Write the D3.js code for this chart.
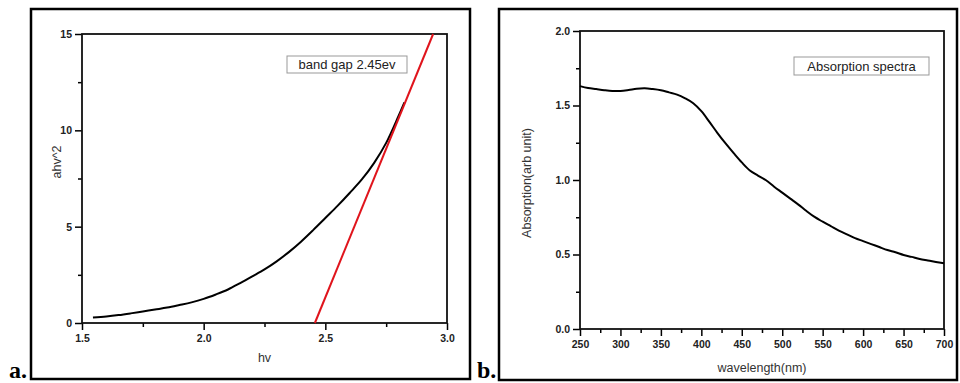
<!DOCTYPE html>
<html>
<head>
<meta charset="utf-8">
<script src="https://cdn.jsdelivr.net/npm/d3@7"></script>
<style>
  body { margin: 0; background: #fff; }
  svg { display: block; }
  .tick text { font-family: "Liberation Sans", Arial, sans-serif; font-weight: bold; font-size: 10.5px; fill: #222; }
  .title { font-family: "Liberation Sans", Arial, sans-serif; font-size: 12.5px; fill: #333; }
  .tag { font-family: "Liberation Serif", "Times New Roman", serif; font-weight: bold; font-size: 24px; fill: #000; }
</style>
</head>
<body>
<svg id="chart" width="960" height="383"></svg>
<script>
// panel a: Tauc plot
const hv = [1.545, 1.6, 1.65, 1.7, 1.75, 1.8, 1.85, 1.9, 1.95, 2.0, 2.05, 2.1, 2.15, 2.2, 2.25, 2.3, 2.35, 2.4, 2.45, 2.5, 2.55, 2.6, 2.65, 2.7, 2.75, 2.8, 2.825];
const ahv2 = [0.29, 0.34, 0.41, 0.5, 0.6, 0.7, 0.8, 0.93, 1.07, 1.25, 1.48, 1.74, 2.07, 2.42, 2.78, 3.2, 3.68, 4.22, 4.82, 5.45, 6.08, 6.75, 7.45, 8.3, 9.35, 10.72, 11.45];
const fitHv = [2.457, 2.943];
const fitY = [0, 15];

// panel b: absorption spectrum
const wavelength = [250, 260, 270, 280, 290, 300, 310, 320, 330, 340, 350, 360, 370, 380, 390, 400, 410, 420, 430, 440, 450, 460, 470, 480, 490, 500, 510, 520, 530, 540, 550, 560, 570, 580, 590, 600, 610, 620, 630, 640, 650, 660, 670, 680, 690, 700];
const absorption = [1.63, 1.617, 1.61, 1.603, 1.598, 1.598, 1.604, 1.612, 1.615, 1.61, 1.602, 1.588, 1.573, 1.548, 1.515, 1.462, 1.39, 1.315, 1.245, 1.18, 1.118, 1.064, 1.03, 0.998, 0.955, 0.915, 0.875, 0.835, 0.792, 0.752, 0.72, 0.69, 0.66, 0.635, 0.61, 0.59, 0.57, 0.55, 0.53, 0.515, 0.497, 0.484, 0.47, 0.46, 0.45, 0.441];

const xTicksA = [1.5, 2.0, 2.5, 3.0];
const yTicksA = [0, 5, 10, 15];
const xTicksB = [250, 300, 350, 400, 450, 500, 550, 600, 650, 700];
const yTicksB = [0, 0.5, 1.0, 1.5, 2.0];

const svg = d3.select('#chart');

function panel(cfg) {
    // outer frame
    svg.append('rect')
        .attr('x', cfg.frame[0]).attr('y', cfg.frame[1])
        .attr('width', cfg.frame[2] - cfg.frame[0]).attr('height', cfg.frame[3] - cfg.frame[1])
        .attr('fill', 'none').attr('stroke', '#000').attr('stroke-width', 2.5);

    svg.append('text').attr('class', 'tag')
        .attr('x', cfg.tag[0]).attr('y', cfg.tag[1]).text(cfg.tagText);

    const x = d3.scaleLinear().domain(cfg.xDomain).range([cfg.left, cfg.right]);
    const y = d3.scaleLinear().domain(cfg.yDomain).range([cfg.bottom, cfg.top]);
    const g = svg.append('g');

    // minor ticks
    const xMinor = d3.range(cfg.xDomain[0] + cfg.xStep / 2, cfg.xDomain[1], cfg.xStep);
    const yMinor = d3.range(cfg.yDomain[0] + cfg.yStep / 2, cfg.yDomain[1], cfg.yStep);

    g.append('g').attr('transform', `translate(0,${cfg.bottom})`)
        .call(d3.axisBottom(x).tickValues(xMinor).tickSize(4).tickFormat(''))
        .call(a => a.select('.domain').remove())
        .selectAll('line').attr('stroke-width', 1.5);
    g.append('g').attr('transform', `translate(${cfg.left},0)`)
        .call(d3.axisLeft(y).tickValues(yMinor).tickSize(4).tickFormat(''))
        .call(a => a.select('.domain').remove())
        .selectAll('line').attr('stroke-width', 1.5);

    const xAxis = g.append('g').attr('transform', `translate(0,${cfg.bottom})`)
        .call(d3.axisBottom(x).tickValues(cfg.xTicks).tickSize(7).tickPadding(5).tickFormat(cfg.xFmt));
    xAxis.select('.domain').remove();
    xAxis.selectAll('line').attr('stroke-width', 1.5);

    const yAxis = g.append('g').attr('transform', `translate(${cfg.left},0)`)
        .call(d3.axisLeft(y).tickValues(cfg.yTicks).tickSize(7).tickPadding(3).tickFormat(cfg.yFmt));
    yAxis.select('.domain').remove();
    yAxis.selectAll('line').attr('stroke-width', 1.5);

    // plot box
    g.append('rect')
        .attr('x', cfg.left).attr('y', cfg.top)
        .attr('width', cfg.right - cfg.left).attr('height', cfg.bottom - cfg.top)
        .attr('fill', 'none').attr('stroke', '#111').attr('stroke-width', 1.8);

    // axis titles
    svg.append('text').attr('class', 'title')
        .attr('x', (cfg.left + cfg.right) / 2).attr('y', cfg.xTitleY)
        .attr('text-anchor', 'middle').text(cfg.xTitle);
    svg.append('text').attr('class', 'title')
        .attr('transform', `translate(${cfg.yTitlePos[0]},${cfg.yTitlePos[1]}) rotate(-90)`)
        .attr('text-anchor', 'middle').attr('dy', '0.35em').text(cfg.yTitle);

    // legend box
    svg.append('rect')
        .attr('x', cfg.legend[0]).attr('y', cfg.legend[1])
        .attr('width', cfg.legend[2] - cfg.legend[0]).attr('height', cfg.legend[3] - cfg.legend[1])
        .attr('fill', '#fff').attr('stroke', '#999').attr('stroke-width', 1);
    svg.append('text').attr('class', 'title')
        .style('font-size', '13px').style('fill', '#222')
        .attr('x', (cfg.legend[0] + cfg.legend[2]) / 2).attr('y', (cfg.legend[1] + cfg.legend[3]) / 2)
        .attr('dy', '0.36em').attr('text-anchor', 'middle').text(cfg.legendText);

    return { x, y };
}

// ---- panel a
const a = panel({
    frame: [31, 9, 470, 379], tag: [9, 378], tagText: 'a.',
    left: 82, right: 447, top: 34, bottom: 323,
    xDomain: [1.5, 3.0], yDomain: [0, 15], xStep: 0.5, yStep: 5,
    xTicks: xTicksA, yTicks: yTicksA, xFmt: d3.format('.1f'), yFmt: d3.format('d'),
    xTitle: 'hv', xTitleY: 362, yTitle: 'ahv^2', yTitlePos: [57, 162],
    legend: [287, 56, 407, 73], legendText: 'band gap 2.45ev'
});

const lineA = d3.line().x(d => a.x(d[0])).y(d => a.y(d[1])).curve(d3.curveCatmullRom);
svg.append('path')
    .datum(d3.zip(hv, ahv2))
    .attr('d', lineA)
    .attr('fill', 'none').attr('stroke', '#000').attr('stroke-width', 2);

svg.append('path')
    .datum(d3.zip(fitHv, fitY))
    .attr('d', d3.line().x(d => a.x(d[0])).y(d => a.y(d[1])))
    .attr('fill', 'none').attr('stroke', '#e0141c').attr('stroke-width', 2);

// ---- panel b
const b = panel({
    frame: [499, 9, 957, 380], tag: [477, 378], tagText: 'b.',
    left: 580, right: 944, top: 31, bottom: 329,
    xDomain: [250, 700], yDomain: [0, 2], xStep: 50, yStep: 0.5,
    xTicks: xTicksB, yTicks: yTicksB, xFmt: d3.format('d'), yFmt: d3.format('.1f'),
    xTitle: 'wavelength(nm)', xTitleY: 372, yTitle: 'Absorption(arb unit)', yTitlePos: [527, 183],
    legend: [794, 57, 929, 75], legendText: 'Absorption spectra'
});

svg.append('path')
    .datum(d3.zip(wavelength, absorption))
    .attr('d', d3.line().x(d => b.x(d[0])).y(d => b.y(d[1])).curve(d3.curveCatmullRom))
    .attr('fill', 'none').attr('stroke', '#000').attr('stroke-width', 2);
</script>
</body>
</html>
